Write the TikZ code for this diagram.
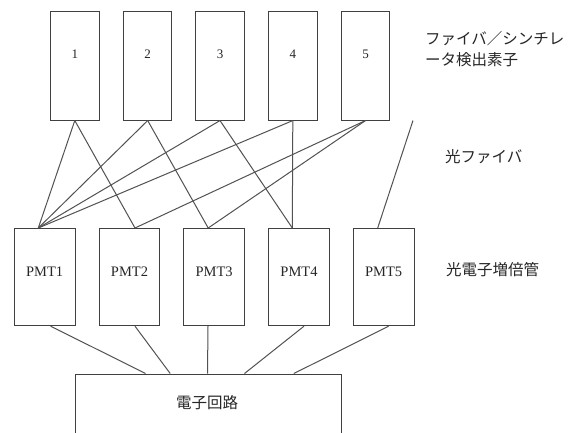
\documentclass[tikz,border=0pt]{standalone}
\usepackage{fontspec}
\setmainfont{Liberation Serif}
\newfontfamily\jp{Noto Sans CJK JP}
\usetikzlibrary{calc}
\tikzset{
  box/.style={draw=black!75, line width=1pt, fill=white, inner sep=0pt},
  topbox/.style={box, minimum width=48.5pt, minimum height=108.7pt},
  pmtbox/.style={box, minimum width=60.7pt, minimum height=97.2pt},
  num/.style={font=\fontsize{13}{15}\selectfont, text=black!85},
  pmtlbl/.style={font=\fontsize{14.5}{16}\selectfont, text=black!85},
  jlbl/.style={font=\jp\fontsize{15.5}{18}\selectfont, text=black!85, anchor=west, inner sep=0pt},
  wire/.style={draw=black!68, line width=1pt}
}
\begin{document}
\begin{tikzpicture}[x=1pt,y=-1pt]
\clip (0,0) rectangle (581,432);
\fill[white] (0,0) rectangle (581,432);
% top detector boxes
\foreach \i/\x in {1/74.8,2/147.7,3/220,4/292.8,5/365.5}{
  \node[topbox] (t\i) at (\x,65.7) {};
  \node[num] (n\i) at (\x,54.3) {\i};
}
% PMT boxes
\foreach \i/\x in {1/44.7,2/129.5,3/214.2,4/299,5/383.7}{
  \node[pmtbox] (p\i) at (\x,277.1) {};
  \node[pmtlbl] (q\i) at (\x,271.7) {PMT\i};
}
% electronics box
\node[box, minimum width=266.7pt, minimum height=80pt] (e) at (208.35,414) {};
\node[font=\jp\fontsize{15.5}{18}\selectfont, text=black!85] (et) at (207,403) {電子回路};
% fibre connections
\coordinate (a1) at ($(p1.north)+(-6.4,0)$);
\coordinate (a2) at ($(p2.north)+(5.5,0)$);
\coordinate (a3) at ($(p3.north)+(-6,0)$);
\coordinate (a4) at ($(p4.north)+(-6.7,0)$);
\coordinate (a5) at ($(p5.north)+(-6,0)$);
\draw[wire] (t1.south) -- (a1);
\draw[wire] (t1.south) -- (a2);
\draw[wire] (t2.south) -- (a1);
\draw[wire] (t2.south) -- (a3);
\draw[wire] (t3.south) -- (a1);
\draw[wire] (t3.south) -- (a4);
\draw[wire] (t4.south) -- (a1);
\draw[wire] (t4.south) -- (a4);
\draw[wire] (t5.south) -- (a2);
\draw[wire] (t5.south) -- (a3);
\coordinate (f) at (413,120.5);
\draw[wire] (f) -- (a5);
% PMT to electronics
\draw[wire] ($(p1.south)+(6,0)$) -- ($(e.north west)+(71,0)$);
\draw[wire] ($(p2.south)+(5.5,0)$) -- ($(e.north west)+(95.7,0)$);
\draw[wire] ($(p3.south)+(-6.2,0)$) -- ($(e.north west)+(133,0)$);
\draw[wire] ($(p4.south)+(5,0)$) -- ($(e.north west)+(170,0)$);
\draw[wire] ($(p5.south)+(5,0)$) -- ($(e.north west)+(219.3,0)$);
% side labels
\node[jlbl] (s1) at (425,39) {ファイバ／シンチレ};
\node[jlbl] (s2) at (425,60) {ータ検出素子};
\node[jlbl] (s3) at (445,157) {光ファイバ};
\node[jlbl] (s4) at (446,270) {光電子増倍管};
\end{tikzpicture}
\end{document}
